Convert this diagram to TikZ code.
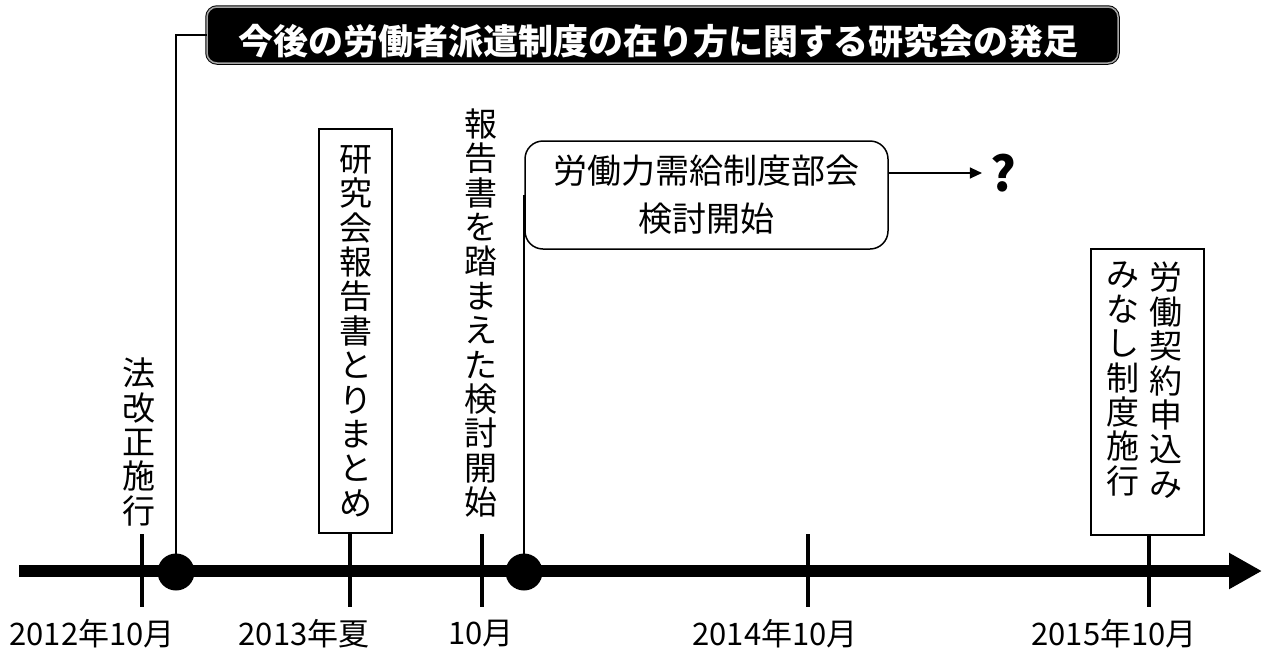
\documentclass[tikz,border=0pt]{standalone}
\usepackage{fontspec}
\setmainfont{Noto Sans CJK JP}
\usetikzlibrary{arrows.meta}

\begin{document}
\begin{tikzpicture}[x=1pt, y=-1pt,
		vtxt/.style={align=center, inner sep=0pt, font=\fontsize{33}{34.4}\selectfont},
		datelbl/.style={inner sep=0pt, font=\fontsize{31}{31}\selectfont},
		tickmark/.style={line width=4.5pt},
		leader/.style={line width=1.2pt}]
		%%%%% START %%%%%
		
		\useasboundingbox (0, 0) rectangle (1263, 651);
		
		\node[draw=black, line width=1pt, double=black!35, double distance=1.5pt, fill=black, rounded corners=10pt, minimum width=911pt, minimum height=56pt, inner sep=0pt] (banner) at (662.5, 35) {};
		\node[text=white, inner sep=0pt, font=\fontsize{35}{35}\selectfont\bfseries] (bannertxt) at (658, 41) {今後の労働者派遣制度の在り方に関する研究会の発足};
		
		\draw[line width=12pt, -{Triangle[length=33pt, width=34pt]}] (19, 571) -- (1262, 571);
		
		\draw[tickmark] (142, 534) -- (142, 607);
		\draw[tickmark] (350, 534) -- (350, 607);
		\draw[tickmark] (482, 534) -- (482, 607);
		\draw[tickmark] (808, 534) -- (808, 607);
		\draw[tickmark] (1149, 534) -- (1149, 607);
		
		\node[circle, fill=black, minimum size=37pt, inner sep=0pt] (dot1) at (176, 572) {};
		\node[circle, fill=black, minimum size=37pt, inner sep=0pt] (dot2) at (524, 572) {};
		
		\node[vtxt] (law) at (139, 442) {法\\改\\正\\施\\行};
		\node[vtxt, draw, line width=1.2pt, minimum width=73pt, minimum height=404pt] (box2) at (355.5, 331) {研\\究\\会\\報\\告\\書\\と\\り\\ま\\と\\め};
		\node[vtxt] (rep) at (481, 313) {報\\告\\書\\を\\踏\\ま\\え\\た\\検\\討\\開\\始};
		
		\node[draw, line width=1.5pt, rounded corners=18pt, minimum width=363pt, minimum height=108pt, align=center, inner sep=0pt, font=\fontsize{34}{48}\selectfont] (rnd) at (706.5, 195) {労働力需給制度部会\\検討開始};
		\node[inner sep=8pt, font=\fontsize{48}{48}\selectfont\bfseries] (qm) at (1003, 173) {?};
		\draw[leader, -{Triangle[length=12pt, width=11pt]}] (rnd.east |- qm.west) -- (qm.west);
		
		\node[draw, line width=1.2pt, minimum width=113pt, minimum height=286pt] (box4) at (1147.5, 392) {};
		\node[vtxt, anchor=north] (col1) at (1166, 262) {労\\働\\契\\約\\申\\込\\み};
		\node[vtxt, anchor=north] (col2) at (1123, 262) {み\\な\\し\\制\\度\\施\\行};
		
		\draw[leader] (dot1.center) |- (banner.west);
		\draw[leader] (dot2.center) -- (dot2 |- rnd.west);
		
		\node[datelbl] (d12) at (92, 634) {2012年10月};
		\node[datelbl] (d13) at (304, 634) {2013年夏};
		\node[datelbl] (d1310) at (481, 634) {10月};
		\node[datelbl] (d14) at (775, 634) {2014年10月};
		\node[datelbl] (d15) at (1114, 634) {2015年10月};
		
		%%%%% END %%%%%
	\end{tikzpicture}
\end{document}
